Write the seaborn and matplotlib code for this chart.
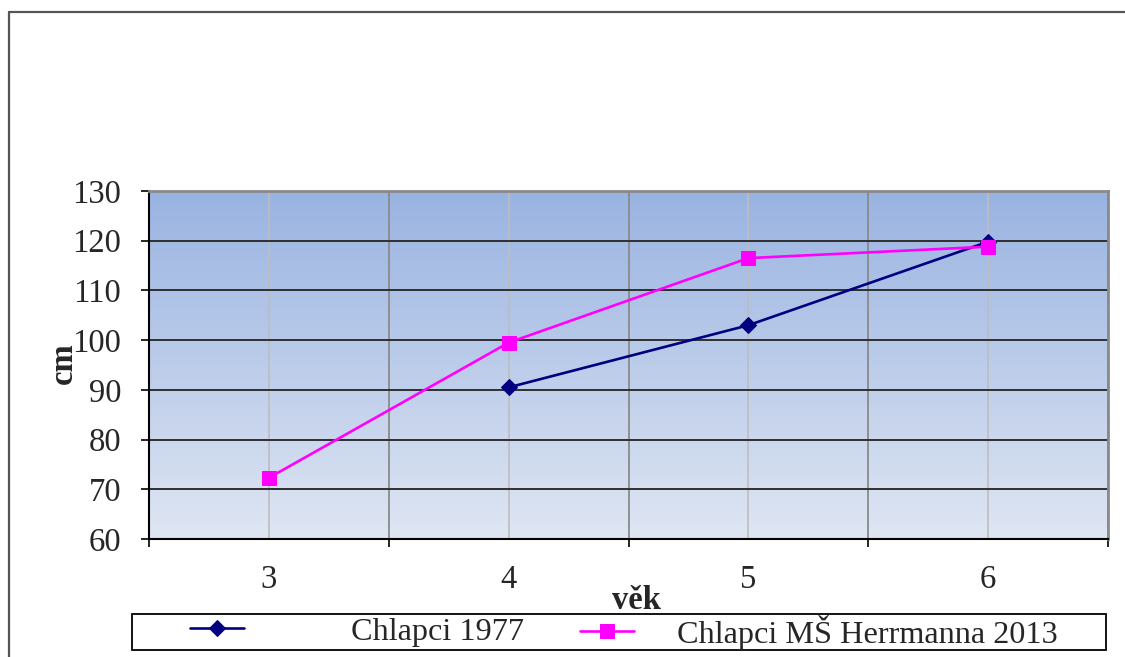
import numpy as np
import pandas as pd
import seaborn as sns
import matplotlib.pyplot as plt
from matplotlib.lines import Line2D
from matplotlib.patches import Rectangle
from matplotlib.colors import LinearSegmentedColormap
from matplotlib.ticker import FixedLocator

# Body height of boys by age (cm)
ages = [3, 4, 5, 6]
boys_1977 = [np.nan, 90.5, 103.0, 119.8]
boys_2013 = [72.3, 99.5, 116.5, 118.8]
series_names = ["Chlapci 1977", "Chlapci MŠ Herrmanna 2013"]
y_ticks = [60, 70, 80, 90, 100, 110, 120, 130]
x_label = "věk"
y_label = "cm"

df = pd.DataFrame({
    "age": ages * 2,
    "height": boys_1977 + boys_2013,
    "series": [series_names[0]] * 4 + [series_names[1]] * 4,
}).dropna()

sns.set_theme(style="white")
plt.rcParams["font.family"] = ["Liberation Serif", "DejaVu Serif"]

W, H = 1125, 657
fig = plt.figure(figsize=(W / 100, H / 100), dpi=100)
fig.patch.set_facecolor("white")

# outer frame (left and top edges)
frame_kw = dict(transform=fig.transFigure, color="#555555", lw=1.6)
fig.add_artist(Line2D([9 / W, 9 / W], [0, 1 - 12 / H], **frame_kw))
fig.add_artist(Line2D([9 / W, 1], [1 - 12 / H, 1 - 12 / H], **frame_kw))

ax = fig.add_axes([149 / W, 118 / H, 959 / W, 348 / H])

# gradient plot background
cmap = LinearSegmentedColormap.from_list("bg", ["#dfe6f3", "#99b3e1"])
ax.imshow(np.linspace(0, 1, 256).reshape(-1, 1), cmap=cmap, origin="lower",
          extent=[2.5, 6.5, 60, 130], aspect="auto", zorder=0)

colors = {series_names[0]: "#000080", series_names[1]: "#ff00ff"}
markers = {series_names[0]: "D", series_names[1]: "s"}
sizes = {series_names[0]: 8.5, series_names[1]: 10.5}

for name in series_names:
    sub = df[df["series"] == name]
    sns.lineplot(data=sub, x="age", y="height", ax=ax, color=colors[name],
                 marker=markers[name], markersize=sizes[name],
                 markeredgecolor=colors[name], linewidth=1.9,
                 legend=False, zorder=3)

ax.set_xlim(2.5, 6.5)
ax.set_ylim(60, 130)
ax.set_xticks(ages)
ax.set_xticklabels([str(a) for a in ages])
ax.xaxis.set_minor_locator(FixedLocator([2.5, 3.5, 4.5, 5.5, 6.5]))
ax.set_yticks(y_ticks)
ax.set_xlabel("")
ax.set_ylabel("")

ax.set_axisbelow(True)
ax.grid(axis="y", which="major", color="#2f2f2f", lw=1.4)
ax.grid(axis="x", which="major", color="#bdbdbd", lw=1.2)
ax.grid(axis="x", which="minor", color="#8a8a8a", lw=1.3)

ax.tick_params(axis="y", which="major", direction="out", length=6, width=1.2,
               color="black", pad=14, labelsize=23.5, left=True)
ax.tick_params(axis="x", which="major", length=0, pad=18, labelsize=23.5,
               bottom=True)
ax.tick_params(axis="x", which="minor", direction="out", length=6, width=1.2,
               color="black", bottom=True)

for side in ["left", "bottom"]:
    ax.spines[side].set_color("black")
    ax.spines[side].set_linewidth(1.5)
for side in ["top", "right"]:
    ax.spines[side].set_color("#8a8a8a")
    ax.spines[side].set_linewidth(2)

# axis titles
fig.text(637 / W, 1 - 609 / H, x_label, ha="center", va="baseline",
         fontsize=23.5, fontweight="bold")
fig.text(63 / W, 1 - 363 / H, y_label, ha="center", va="center",
         rotation=90, fontsize=23.5, fontweight="bold")

# legend box below the plot
fig.add_artist(Rectangle((132 / W, 1 - 650 / H), 974 / W, 36 / H,
                         transform=fig.transFigure, fill=False,
                         edgecolor="black", lw=1.3))
leg_fs = 23.2
fs_px = leg_fs * 100 / 72
lines = ax.get_lines()
for line, name, x0, gap in [(lines[0], series_names[0], 190, 107),
                            (lines[1], series_names[1], 580, 43)]:
    fig.legend([line], [name], loc="center left",
               bbox_to_anchor=(x0 / W, 1 - 632 / H), frameon=False,
               borderpad=0, borderaxespad=0, fontsize=leg_fs,
               handlelength=54 / fs_px, handletextpad=gap / fs_px)

fig.savefig("out.png", dpi=100)
